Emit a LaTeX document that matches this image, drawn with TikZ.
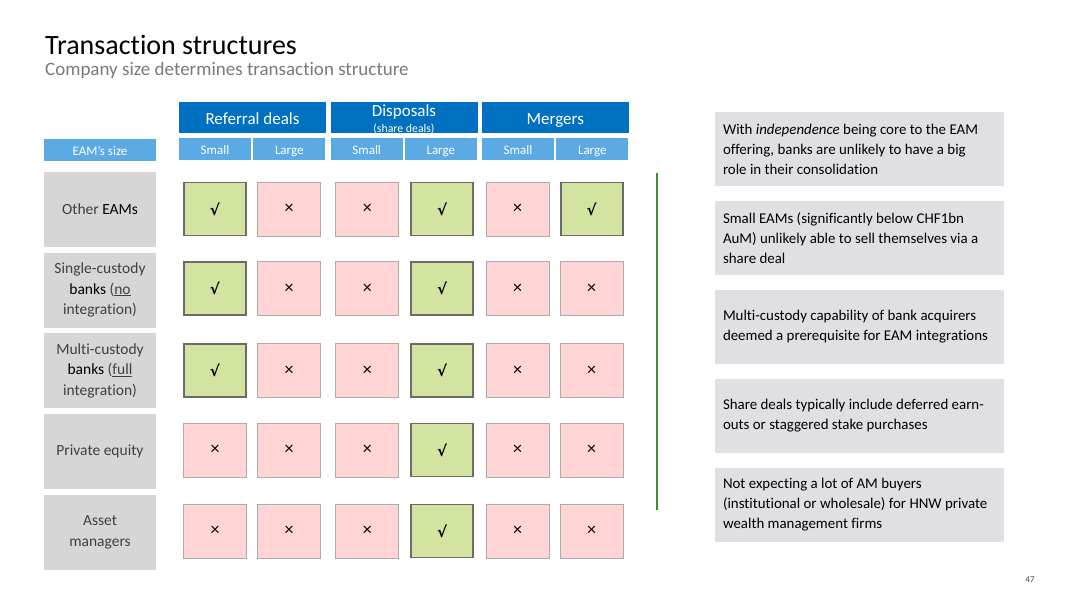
\documentclass[tikz,border=0pt]{standalone}
\usepackage{fontspec}
\setmainfont{Carlito}[Ligatures=NoCommon]
\newfontfamily\symfont{DejaVu Sans}
\definecolor{dblue}{HTML}{0070C0}
\definecolor{lblue}{HTML}{5BAAE4}
\definecolor{lgray}{HTML}{D6D6D6}
\definecolor{rgray}{HTML}{E0DFE3}
\definecolor{gfill}{HTML}{D3E4A0}
\definecolor{pfill}{HTML}{FFD4D4}
\definecolor{gline}{HTML}{3E8E2E}
\definecolor{txtgray}{HTML}{404040}
\newcommand\mychk{{\symfont\fontsize{15}{15}\selectfont\bfseries √}}
\newcommand\mycrs{\raisebox{-2pt}{\fontsize{18}{18}\selectfont ×}}
\newcommand\fs[1]{\fontsize{#1}{#1}\selectfont}
\begin{document}
\begin{tikzpicture}[x=1pt,y=-1pt,
  hdr/.style={fill=dblue, draw=none, minimum width=147pt, minimum height=31pt, inner sep=0pt, text=white, font=\fs{17}, text height=13pt, text depth=0pt},
  sub/.style={fill=lblue, draw=none, minimum width=72pt, minimum height=22pt, inner sep=0pt, text=white, font=\fs{13}, text height=11.5pt, text depth=0pt},
  rowlab/.style={fill=lgray, draw=none, minimum width=112pt, minimum height=75pt, inner sep=0pt, align=center, text=txtgray, font=\fontsize{15.5}{20.5}\selectfont},
  yes/.style={fill=gfill, draw=black!58, line width=1.6pt, minimum width=62pt, minimum height=53pt, inner sep=0pt},
  no/.style={fill=pfill, draw=black!33, line width=0.9pt, minimum width=63pt, minimum height=54pt, inner sep=0pt},
  note/.style={fill=rgray, draw=none, minimum width=289pt, minimum height=74pt, inner sep=0pt},
  notetext/.style={anchor=west, inner sep=0pt, align=left, font=\fontsize{14.9}{20}\selectfont},
  greenline/.style={draw=gline, line width=2pt}
]
\useasboundingbox[fill=white] (0,0) rectangle (1080,608);

% title
\node[anchor=base west, inner sep=0pt, font=\fs{28}] (title) at (45,54.5) {Transaction structures};
\node[anchor=base west, inner sep=0pt, font=\fs{19}, text=black!52] (subtitle) at (45,75.5) {Company size determines transaction structure};

% headers
\node[hdr] (href) at (252.5,117.8) {Referral deals};
\node[hdr] (hdis) at (404,117.8) {};
\node[anchor=base, inner sep=0pt, text=white, font=\fs{17}] (hdist) at (404,116.5) {Disposals};
\node[anchor=base, inner sep=0pt, text=white, font=\fs{11.8}] (hdiss) at (404,132) {(share deals)};
\node[hdr] (hmer) at (555.3,117.8) {Mergers};

\node[sub, minimum width=112pt] (eam) at (100,149.5) {EAM’s size};
\node[sub] (s1) at (215,149.2) {Small};
\node[sub] (l1) at (289.3,149.2) {Large};
\node[sub] (s2) at (366.7,149.2) {Small};
\node[sub] (l2) at (440.8,149.2) {Large};
\node[sub] (s3) at (518,149.2) {Small};
\node[sub] (l3) at (592.3,149.2) {Large};

% row labels
\node[rowlab] (r1) at (100,209.2) {Other {\color{black}EAMs}};
\node[rowlab] (r2) at (100,290) {Single-custody\\{\color{black}banks} (\underline{no}\\integration)};
\node[rowlab] (r3) at (100,370.5) {Multi-custody\\{\color{black}banks} (\underline{full}\\integration)};
\node[rowlab] (r4) at (100,451.3) {Private equity};
\node[rowlab] (r5) at (100,532.3) {Asset\\managers};

% cells row 1
\node[yes] (c11) at (215,209) {\mychk};
\node[no]  (c12) at (289.2,209) {\mycrs};
\node[no]  (c13) at (367.3,209) {\mycrs};
\node[yes] (c14) at (442,209) {\mychk};
\node[no]  (c15) at (517.5,209) {\mycrs};
\node[yes] (c16) at (591.7,209) {\mychk};
% row 2
\node[yes] (c21) at (215,288.7) {\mychk};
\node[no]  (c22) at (289.2,288.7) {\mycrs};
\node[no]  (c23) at (367.3,288.7) {\mycrs};
\node[yes] (c24) at (442,288.7) {\mychk};
\node[no]  (c25) at (517.5,288.7) {\mycrs};
\node[no]  (c26) at (591.7,288.7) {\mycrs};
% row 3
\node[yes] (c31) at (215,370.3) {\mychk};
\node[no]  (c32) at (289.2,370.3) {\mycrs};
\node[no]  (c33) at (367.3,370.3) {\mycrs};
\node[yes] (c34) at (442,370.3) {\mychk};
\node[no]  (c35) at (517.5,370.3) {\mycrs};
\node[no]  (c36) at (591.7,370.3) {\mycrs};
% row 4
\node[no]  (c41) at (215,450) {\mycrs};
\node[no]  (c42) at (289.2,450) {\mycrs};
\node[no]  (c43) at (367.3,450) {\mycrs};
\node[yes] (c44) at (442,450) {\mychk};
\node[no]  (c45) at (517.5,450) {\mycrs};
\node[no]  (c46) at (591.7,450) {\mycrs};
% row 5
\node[no]  (c51) at (215,531) {\mycrs};
\node[no]  (c52) at (289.2,531) {\mycrs};
\node[no]  (c53) at (367.3,531) {\mycrs};
\node[yes] (c54) at (442,531) {\mychk};
\node[no]  (c55) at (517.5,531) {\mycrs};
\node[no]  (c56) at (591.7,531) {\mycrs};

% green divider
\coordinate (gl1) at (657,173);
\coordinate (gl2) at (657,510);
\draw[greenline] (gl1) -- (gl2);

% notes
\node[note] (n1) at (859.5,149.2) {};
\node[notetext] (n1t) at ([xshift=8pt]n1.west) {With \textit{independence} being core to the EAM\\offering, banks are unlikely to have a big\\role in their consolidation};
\node[note] (n2) at (859.5,237.8) {};
\node[notetext] (n2t) at ([xshift=8pt]n2.west) {Small EAMs (significantly below CHF1bn\\AuM) unlikely able to sell themselves via a\\share deal};
\node[note] (n3) at (859.5,326.7) {};
\node[notetext] (n3t) at ([xshift=8pt]n3.west) {Multi-custody capability of bank acquirers\\deemed a prerequisite for EAM integrations};
\node[note] (n4) at (859.5,415.5) {};
\node[notetext] (n4t) at ([xshift=8pt]n4.west) {Share deals typically include deferred earn-\\outs or staggered stake purchases};
\node[note] (n5) at (859.5,504.5) {};
\node[notetext] (n5t) at ([xshift=8pt]n5.west) {Not expecting a lot of AM buyers\\(institutional or wholesale) for HNW private\\wealth management firms};

% page number
\node[inner sep=0pt, font=\fs{9}, text=black!70] (pg) at (1030,580) {47};
\end{tikzpicture}
\end{document}
